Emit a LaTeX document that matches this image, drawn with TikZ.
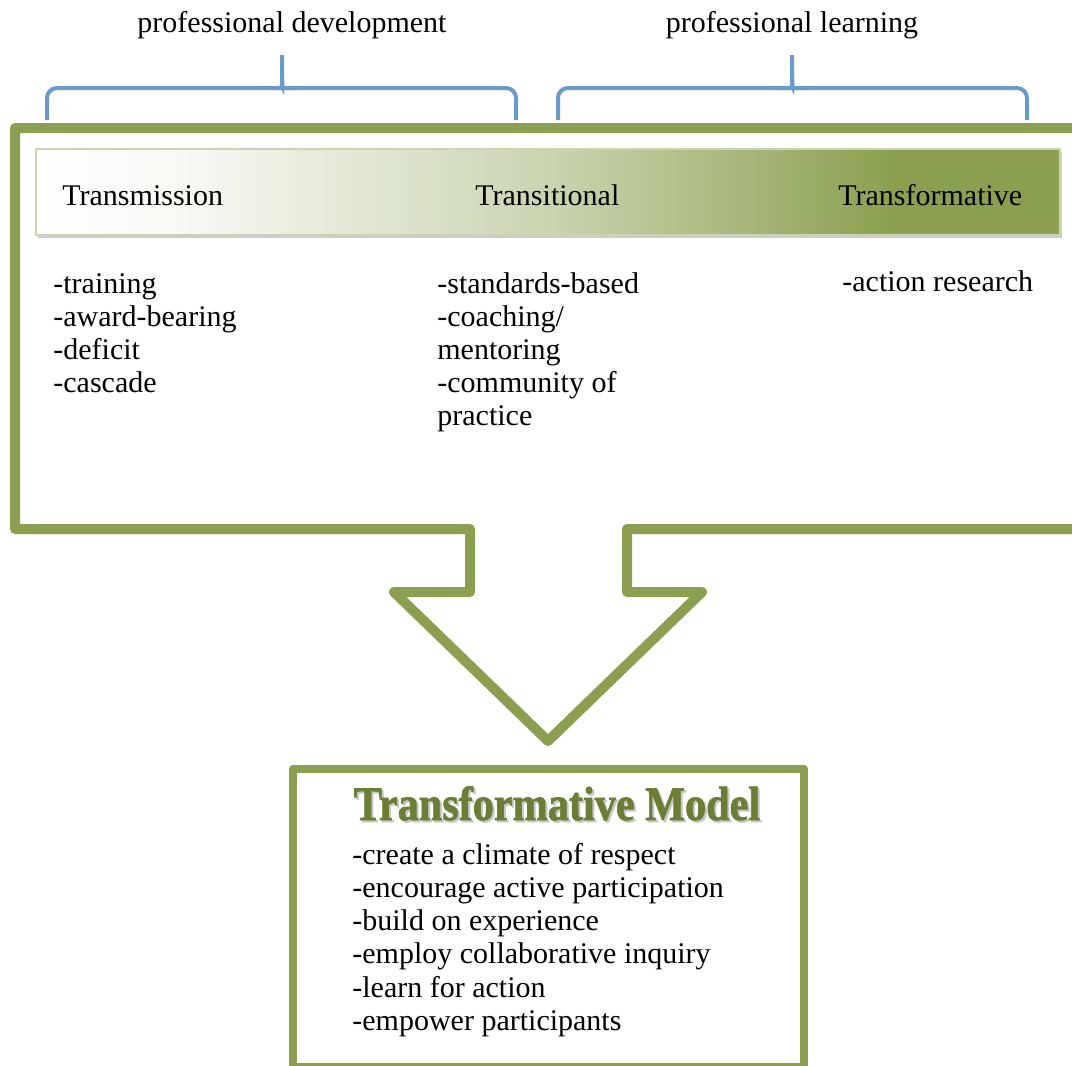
\documentclass[tikz,border=0pt]{standalone}
\usepackage{fontspec}
\setmainfont{Liberation Serif}
\newfontfamily\titlefont{Liberation Serif}[BoldFeatures={FakeBold=1.5}]
\usetikzlibrary{positioning}
\definecolor{framegreen}{HTML}{8AA050}
\definecolor{titlegreen}{HTML}{6B7E35}
\definecolor{braceblue}{HTML}{6A9ACB}
\pgfdeclarehorizontalshading{hdrshade}{100bp}{color(0bp)=(white); color(25bp)=(white);
  color(32bp)=(white!94!framegreen); color(50bp)=(framegreen!45!white);
  color(67bp)=(framegreen); color(100bp)=(framegreen)}

\begin{document}
\begin{tikzpicture}[x=0.5pt,y=-0.5pt,
   brace/.style={draw=braceblue,line width=2pt,rounded corners=5pt},
   outline/.style={draw=framegreen,line join=round,
     preaction={draw=black!18,transform canvas={shift={(1pt,-1.5pt)}}}},
   bar/.style={shading=hdrshade,draw=framegreen!45,line width=0.6pt,
     minimum width=512pt,minimum height=43pt,inner sep=0pt,
     preaction={fill=black!20,transform canvas={shift={(1pt,-1.5pt)}}}},
   lbl/.style={inner sep=0pt,anchor=base,font=\fontsize{15}{16.5}\selectfont},
   item/.style={lbl,anchor=base west},
   ttl/.style={inner sep=0pt,anchor=base,xscale=0.88,
     font=\titlefont\bfseries\fontsize{24}{26}\selectfont}]
 \useasboundingbox (0,0) rectangle (1072,1066);

 % braces over the bar
 \foreach \l/\m/\r in {47/282/516,558/792/1027}
 {\draw[brace] (\l,120) -- (\l,88) -- ({\m-8},88) .. controls ({\m-2},88) and (\m,84) .. (\m,76) -- (\m,55);
  \draw[brace] (\r,120) -- (\r,88) -- ({\m+8},88) .. controls ({\m+2},88) and (\m,84) .. (\m,76);}
 \node[lbl] (pd) at (292,32) {professional development};
 \node[lbl] (pl) at (792,32) {professional learning};

 % callout frame with arrow
 \draw[outline,line width=5pt] (1090,128) -- (15,128) -- (15,529) -- (470,529) -- (470,592)
   -- (394,592) -- (548,741) -- (702,592) -- (627,592) -- (627,529) -- (1090,529);

 \node[bar] (bar) at (548,192) {};
 \node[item] (trm) at (62,205) {Transmission};
 \node[item] (trn) at (475,205) {Transitional};
 \node[item] (trf) at (838,205) {Transformative};

 \foreach \txt [count=\i] in {-training,-award-bearing,-deficit,-cascade}
   \node[item] (tm-\i) at (53,{260+33*\i}) {\txt};
 \foreach \txt [count=\i] in {-standards-based,-coaching/,mentoring,-community of,practice}
   \node[item] (tn-\i) at (437,{260+33*\i}) {\txt};
 \node[item] (tf-1) at (842,291) {-action research};

 % result box
 \draw[outline,line width=4pt] (293,769) rectangle (804,1067);
 \node[ttl,text=black!22] (tmod-s) at (559,822) {Transformative Model};
 \node[ttl,text=titlegreen] (tmod) at (557,820) {Transformative Model};
 \foreach \txt [count=\i] in {-create a climate of respect,-encourage active participation,
   -build on experience,-employ collaborative inquiry,-learn for action,-empower participants}
   \node[item] (mp-\i) at (352,{831+33.2*\i}) {\txt};
\end{tikzpicture}
\end{document}
